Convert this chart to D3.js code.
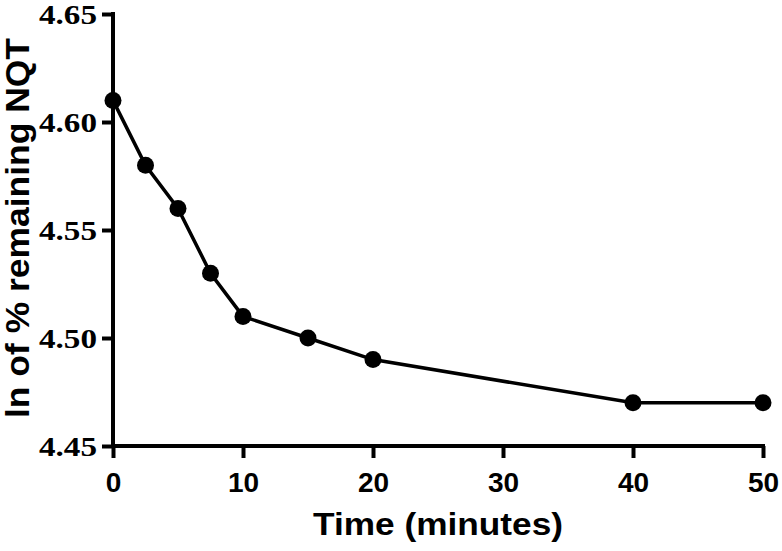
<!DOCTYPE html>
<html>
<head>
<meta charset="utf-8">
<script src="https://cdn.jsdelivr.net/npm/d3@7"></script>
<style>
  body { margin: 0; background: #fff; }
</style>
</head>
<body>
<div id="chart"></div>
<script>
// data
const timeMin = [0, 2.5, 5, 7.5, 10, 15, 20, 40, 50];
const lnRemaining = [4.61, 4.58, 4.56, 4.53, 4.51, 4.50, 4.49, 4.47, 4.47];
const xTicks = [0, 10, 20, 30, 40, 50];
const yTicks = [4.45, 4.50, 4.55, 4.60, 4.65];

const width = 782, height = 551;

const svg = d3.select("#chart").append("svg").attr("width", width).attr("height", height);

const x = d3.scaleLinear().domain([0, 50]).range([113, 763]);
const y = d3.scaleLinear().domain([4.45, 4.65]).range([446, 14]);

// y axis
const yAxis = svg.append("g").attr("transform", "translate(" + x(0) + ",0)")
    .call(d3.axisLeft(y).tickValues(yTicks).tickFormat(d3.format(".2f")).tickSize(11).tickSizeOuter(0).tickPadding(5));
yAxis.select(".domain").attr("stroke-width", 4).attr("d", "M0," + (y(4.65) - 2) + "V" + (y(4.45) + 2));
yAxis.selectAll(".tick line").attr("stroke-width", 4);
yAxis.selectAll(".tick text")
    .attr("font-family", "'Liberation Serif', 'Times New Roman', serif")
    .attr("font-weight", "bold")
    .attr("font-size", 27)
    .attr("fill", "#000")
    .attr("textLength", 58)
    .attr("lengthAdjust", "spacingAndGlyphs")
    .attr("dy", "0.34em");

// x axis
const xAxis = svg.append("g").attr("transform", "translate(0," + y(4.45) + ")")
    .call(d3.axisBottom(x).tickValues(xTicks).tickFormat(d3.format("d")).tickSize(12).tickSizeOuter(0).tickPadding(14));
xAxis.select(".domain").attr("stroke-width", 4).attr("d", "M" + (x(0) - 2) + ",0H" + (x(50) + 2));
xAxis.selectAll(".tick line").attr("stroke-width", 4);
xAxis.selectAll(".tick text")
    .attr("font-family", "'Liberation Sans', Arial, sans-serif")
    .attr("font-weight", "bold")
    .attr("font-size", 28)
    .attr("fill", "#000");

// line + markers
const line = d3.line().x((d, i) => x(timeMin[i])).y(d => y(d));
svg.append("path").datum(lnRemaining)
    .attr("d", line)
    .attr("fill", "none")
    .attr("stroke", "#000")
    .attr("stroke-width", 3.5);

svg.selectAll("circle.pt").data(lnRemaining).enter().append("circle")
    .attr("class", "pt")
    .attr("cx", (d, i) => x(timeMin[i]))
    .attr("cy", d => y(d))
    .attr("r", 8.5)
    .attr("fill", "#000");

// axis titles
svg.append("text")
    .attr("x", 438).attr("y", 535)
    .attr("text-anchor", "middle")
    .attr("font-family", "'Liberation Sans', Arial, sans-serif")
    .attr("font-weight", "bold")
    .attr("font-size", 31)
    .attr("textLength", 250)
    .attr("lengthAdjust", "spacingAndGlyphs")
    .text("Time (minutes)");

svg.append("text")
    .attr("transform", "translate(29,228) rotate(-90)")
    .attr("text-anchor", "middle")
    .attr("font-family", "'Liberation Sans', Arial, sans-serif")
    .attr("font-weight", "bold")
    .attr("font-size", 33)
    .attr("textLength", 380)
    .attr("lengthAdjust", "spacingAndGlyphs")
    .text("ln of % remaining NQT");
</script>
</body>
</html>
